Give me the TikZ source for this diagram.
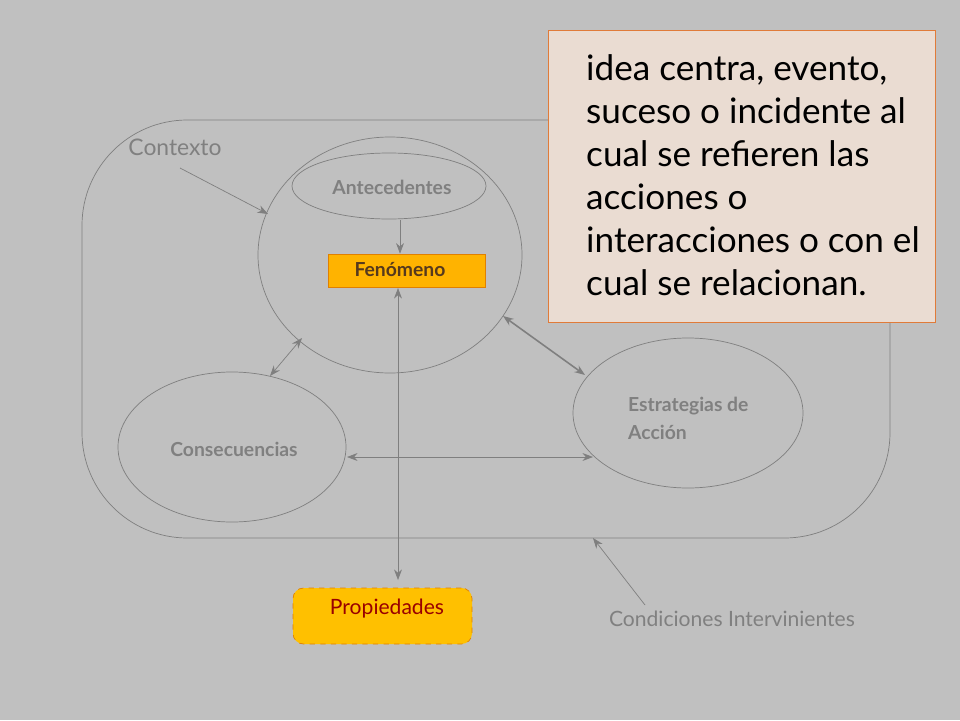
\documentclass[tikz,border=0pt]{standalone}
\usepackage{fontspec}
\setmainfont{Lato}
\usetikzlibrary{arrows.meta}
\definecolor{bg}{HTML}{C0C0C0}
\definecolor{lin}{HTML}{7F7F7F}
\definecolor{txt}{HTML}{808080}
\definecolor{fenfill}{HTML}{FFB300}
\definecolor{fenline}{HTML}{E08000}
\definecolor{propfill}{HTML}{FFC000}
\definecolor{notefill}{HTML}{EADCD2}
\definecolor{noteline}{HTML}{E07B39}
\tikzset{
  conn/.style={draw=lin, -{Stealth[length=6pt]}},
  dconn/.style={draw=lin, {Stealth[length=6pt]}-{Stealth[length=6pt]}},
  lbl/.style={text=txt, font=\bfseries\fontsize{11}{13}\selectfont},
  part/.style={draw=lin, ellipse}
}
\begin{document}
\begin{tikzpicture}[x=0.02cm,y=-0.02cm]
\fill[bg] (0,0) rectangle (960,720);
\useasboundingbox (0,0) rectangle (960,720);
%contexto
\draw[lin] (82,120) [rounded corners=60] rectangle (890,538);
\node[text=txt, font=\fontsize{13}{15}\selectfont] (ctx) at (175,147) {Contexto};
\coordinate (ctxend) at (268,214);
\draw[conn] (180,168) -- (ctxend);
%fenomeno
\draw[lin] (390,255) ellipse (132 and 118);
\draw[lin] (389,186) ellipse (97 and 33);
\node[lbl] (ant) at (392,187) {Antecedentes};
\node[draw=fenline, fill=fenfill, minimum width=157*0.02cm, minimum height=33*0.02cm, inner sep=0] (fen) at (406.5,270.5) {};
\node[font=\bfseries\fontsize{11}{13}\selectfont, text=black!55!brown] at (400,270) {Fenómeno};
\draw[conn] (400,220) -- (fen.north -| 400,0);
%propiedades
\node[draw=fenline, dashed, fill=propfill, rounded corners=6, minimum width=179*0.02cm, minimum height=56*0.02cm] (prop) at (382.5,616) {};
\node[text=red!60!black, font=\fontsize{12}{14}\selectfont] at (387,609) {Propiedades};
\draw[dconn] (398,288) -- (398,580);
%consecuencias y estrategias
\draw[lin] (232,447) ellipse (114 and 75);
\node[lbl] (cons) at (234,449) {Consecuencias};
\draw[lin] (688,413) ellipse (115 and 75);
\node[lbl, align=left, anchor=west, font=\bfseries\fontsize{11}{16}\selectfont] (est) at (622,418) {Estrategias de\\Acción};
\draw[dconn] (270,376) -- (302,338);
\draw[dconn, line width=0.9pt] (503,316) -- (585,375);
\draw[dconn] (347,457) -- (593,457);
%condiciones
\node[text=txt, font=\fontsize{12}{14}\selectfont] (cond) at (732,619) {Condiciones Intervinientes};
\draw[conn] (645,605) -- (593,538);
%nota
\node[draw=noteline, fill=notefill, minimum width=387*0.02cm, minimum height=292*0.02cm] (note) at (741.5,176) {};
\node[anchor=north west, align=left, font=\fontsize{20}{24.5}\selectfont, text=black] at (580,48)
  {idea centra, evento,\\suceso o incidente al\\cual se refieren las\\acciones o\\interacciones o con el\\cual se relacionan.};
\end{tikzpicture}
\end{document}
